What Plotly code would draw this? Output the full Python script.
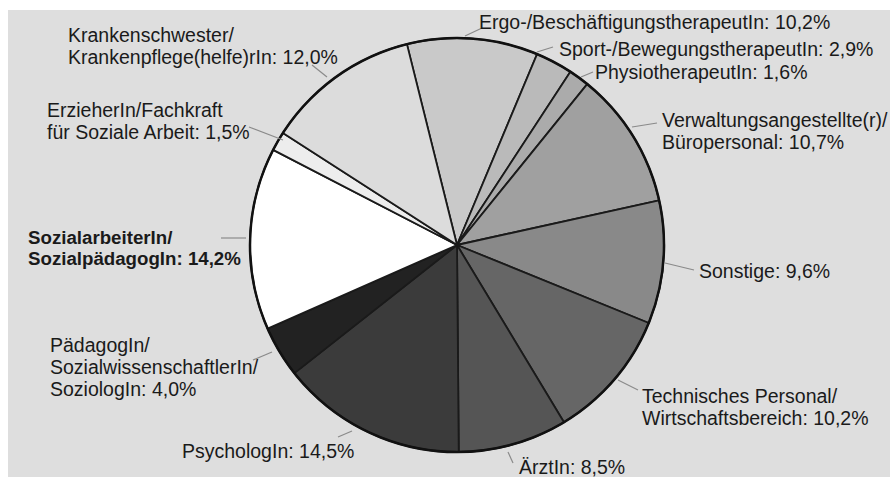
import math
import plotly.graph_objects as go

# ---- data ----
categories = [
    "Ergo-/BeschäftigungstherapeutIn",
    "Sport-/BewegungstherapeutIn",
    "PhysiotherapeutIn",
    "Verwaltungsangestellte(r)/<br>Büropersonal",
    "Sonstige",
    "Technisches Personal/<br>Wirtschaftsbereich",
    "ÄrztIn",
    "PsychologIn",
    "PädagogIn/<br>SozialwissenschaftlerIn/<br>SoziologIn",
    "SozialarbeiterIn/<br>SozialpädagogIn",
    "ErzieherIn/Fachkraft<br>für Soziale Arbeit",
    "Krankenschwester/<br>Krankenpflege(helfe)rIn",
]
shares = [10.2, 2.9, 1.6, 10.7, 9.6, 10.2, 8.5, 14.5, 4.0, 14.2, 1.5, 12.0]
bold_flags = [False] * 9 + [True] + [False] * 2

# ---- style ----
W, H = 890, 477
CX, CY, R = 457, 245, 207
colors = ["#c9c9c9", "#bababa", "#ababab", "#a0a0a0", "#898989", "#666666",
          "#555555", "#3b3b3b", "#222222", "#ffffff", "#ededed", "#dcdcdc"]
FONT = "Liberation Sans, Arial, Helvetica, sans-serif"
FS = 19.5
FS_BOLD = 18.7
LINE_GAP = 21.8

# label layout: (left x of text, vertical centre of first line) in pixels
label_pos = [(477, 22), (557, 49), (593, 72), (660, 120), (697, 271), (640, 396),
             (517, 467), (180, 451), (48, 345), (26, 237), (45, 110), (66, 35)]
# leader lines (start, end) in pixels
leaders = [((465, 36), (482, 28)), ((537, 52), (553, 47)), ((581, 77), (593, 72)),
           ((632, 127), (657, 123)), ((665, 263), (694, 270)), ((618, 380), (638, 390)),
           ((508, 452), (513, 463)), ((352, 431), (338, 437)), ((272, 352), (253, 360)),
           ((246, 238), (221, 238)), ((283, 140), (249, 127)), ((327, 77), (312, 65))]


def px(x):
    return x / W


def py(y):
    return 1 - y / H


fig = go.Figure(go.Pie(
    labels=categories,
    values=shares,
    sort=False,
    direction="clockwise",
    rotation=-14,
    marker=dict(colors=colors, line=dict(color="#1a1a1a", width=1.8)),
    textinfo="none",
    hoverinfo="skip",
    showlegend=False,
    domain=dict(x=[px(CX - R), px(CX + R)], y=[py(CY + R), py(CY - R)]),
))

shapes = [
    dict(type="rect", xref="paper", yref="paper", x0=px(8), x1=1, y0=0, y1=py(10),
         fillcolor="#dedede", line=dict(width=0), layer="below"),
    dict(type="circle", xref="paper", yref="paper", x0=px(CX - R), x1=px(CX + R),
         y0=py(CY + R), y1=py(CY - R), line=dict(color="#111111", width=2.5), layer="above"),
]
for (s, e) in leaders:
    shapes.append(dict(type="line", xref="paper", yref="paper",
                       x0=px(s[0]), y0=py(s[1]), x1=px(e[0]), y1=py(e[1]),
                       line=dict(color="#8a8a8a", width=1.2), layer="above"))

annotations = []
for name, val, bold, (lx, ly) in zip(categories, shares, bold_flags, label_pos):
    full = f"{name}: {val:.1f}".replace(".", ",") + "%"
    for i, line in enumerate(full.split("<br>")):
        txt = f"<b>{line}</b>" if bold else line
        annotations.append(dict(
            x=px(lx), y=py(ly + i * LINE_GAP), xref="paper", yref="paper",
            xanchor="left", yanchor="middle", showarrow=False, text=txt,
            font=dict(family=FONT, size=FS_BOLD if bold else FS, color="#1a1a1a"),
        ))

fig.update_layout(
    width=W, height=H,
    margin=dict(l=0, r=0, t=0, b=0),
    paper_bgcolor="#ffffff",
    shapes=shapes,
    annotations=annotations,
)

fig.write_html("out.html",
               config={"displayModeBar": False},
               post_script="document.body.style.margin='0';document.body.style.overflow='hidden';")
